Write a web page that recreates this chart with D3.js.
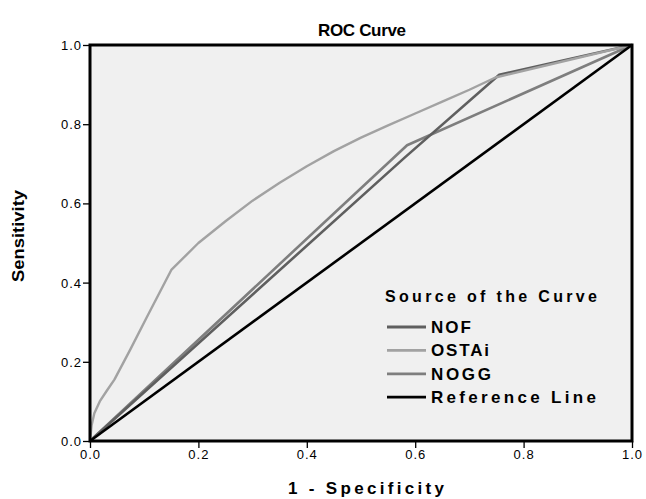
<!DOCTYPE html>
<html>
<head>
<meta charset="utf-8">
<script src="https://cdn.jsdelivr.net/npm/d3@7"></script>
<style>
  html, body { margin: 0; padding: 0; background: #ffffff; }
  svg { display: block; }
  text { font-family: "Liberation Sans", Arial, sans-serif; fill: #000; }
</style>
</head>
<body>
<svg id="chart" width="646" height="499"></svg>
<script>
// ROC curve points (1 - specificity, sensitivity) for each test
const nofX   = [0, 0.58, 0.755, 1];
const nofY   = [0, 0.715, 0.925, 1];
const ostaiX = [0, 0.003, 0.008, 0.018, 0.03, 0.045, 0.074, 0.105, 0.15, 0.2, 0.25, 0.3, 0.35, 0.4, 0.45, 0.5, 0.55, 0.6, 0.65, 0.7, 0.748, 1];
const ostaiY = [0, 0.04, 0.07, 0.10, 0.125, 0.155, 0.23, 0.313, 0.432, 0.5, 0.555, 0.607, 0.652, 0.694, 0.732, 0.766, 0.797, 0.827, 0.857, 0.887, 0.918, 1];
const noggX  = [0, 0.585, 1];
const noggY  = [0, 0.747, 1];
const refX   = [0, 1];
const refY   = [0, 1];

const seriesNames = ["NOF", "OSTAi", "NOGG", "Reference Line"];
const tickValues  = [0, 0.2, 0.4, 0.6, 0.8, 1.0];

const svg = d3.select("#chart");
const m = { left: 90, right: 632, top: 45, bottom: 441 };

const x = d3.scaleLinear().domain([0, 1]).range([m.left, m.right]);
const y = d3.scaleLinear().domain([0, 1]).range([m.bottom, m.top]);

const series = [
  { name: seriesNames[0], xs: nofX,   ys: nofY,   color: "#5f5f5f", width: 2.6 },
  { name: seriesNames[1], xs: ostaiX, ys: ostaiY, color: "#a2a2a2", width: 2.4 },
  { name: seriesNames[2], xs: noggX,  ys: noggY,  color: "#7e7e7e", width: 2.6 },
  { name: seriesNames[3], xs: refX,   ys: refY,   color: "#000000", width: 2.6 }
];

// plot background
svg.append("rect")
  .attr("x", m.left).attr("y", m.top)
  .attr("width", m.right - m.left).attr("height", m.bottom - m.top)
  .attr("fill", "#f0f0f0");

// curves
const line = d3.line().x(d => x(d[0])).y(d => y(d[1]));
const plotG = svg.append("g");
[series[2], series[0], series[1], series[3]].forEach(s => {
  plotG.append("path")
    .datum(s.xs.map((v, i) => [v, s.ys[i]]))
    .attr("d", line)
    .attr("fill", "none")
    .attr("stroke", s.color)
    .attr("stroke-width", s.width)
    .attr("stroke-linejoin", "round");
});

// axes
const fmt = d3.format(".1f");
const xAxis = svg.append("g")
  .attr("transform", `translate(0,${m.bottom})`)
  .call(d3.axisBottom(x).tickValues(tickValues).tickFormat(fmt).tickSize(7).tickPadding(2));
const yAxis = svg.append("g")
  .attr("transform", `translate(${m.left},0)`)
  .call(d3.axisLeft(y).tickValues(tickValues).tickFormat(fmt).tickSize(7).tickPadding(1));

[xAxis, yAxis].forEach(a => {
  a.select(".domain").remove();
  a.selectAll(".tick line").attr("stroke", "#000").attr("stroke-width", 1.3);
  a.selectAll(".tick text")
    .attr("font-size", 13)
    .attr("letter-spacing", "1px")
    .style("font-family", "\"Liberation Sans\", Arial, sans-serif")
    .attr("fill", "#000");
});
yAxis.selectAll(".tick text").attr("dy", "0.35em");

// plot frame
svg.append("rect")
  .attr("x", m.left).attr("y", m.top)
  .attr("width", m.right - m.left).attr("height", m.bottom - m.top)
  .attr("fill", "none")
  .attr("stroke", "#000")
  .attr("stroke-width", 3);

// titles
svg.append("text")
  .attr("x", 362).attr("y", 36)
  .attr("text-anchor", "middle")
  .attr("font-size", 17).attr("font-weight", "bold")
  .attr("textLength", 88).attr("lengthAdjust", "spacing")
  .text("ROC Curve");

svg.append("text")
  .attr("x", 366).attr("y", 494)
  .attr("text-anchor", "middle")
  .attr("font-size", 17).attr("font-weight", "bold")
  .attr("textLength", 156).attr("lengthAdjust", "spacing")
  .text("1 - Specificity");

svg.append("text")
  .attr("transform", "translate(24,236) rotate(-90)")
  .attr("text-anchor", "middle")
  .attr("font-size", 17).attr("font-weight", "bold")
  .style("font-family", "\"Liberation Sans Narrow\", \"Liberation Sans\", sans-serif")
  .attr("textLength", 92).attr("lengthAdjust", "spacingAndGlyphs")
  .text("Sensitivity");

// legend
const leg = svg.append("g");
leg.append("text")
  .attr("x", 385).attr("y", 302)
  .attr("font-size", 16).attr("font-weight", "bold")
  .attr("textLength", 212).attr("lengthAdjust", "spacing")
  .text("Source of the Curve");

const legWidths = [40, 58, 60, 165];
series.forEach((s, i) => {
  const cy = 327 + i * 23.4;
  leg.append("line")
    .attr("x1", 387).attr("x2", 426)
    .attr("y1", cy).attr("y2", cy)
    .attr("stroke", s.color).attr("stroke-width", 2.8);
  leg.append("text")
    .attr("x", 431).attr("y", cy + 6)
    .attr("font-size", 17).attr("font-weight", "bold")
    .attr("textLength", legWidths[i]).attr("lengthAdjust", "spacing")
    .text(s.name);
});
</script>
</body>
</html>
